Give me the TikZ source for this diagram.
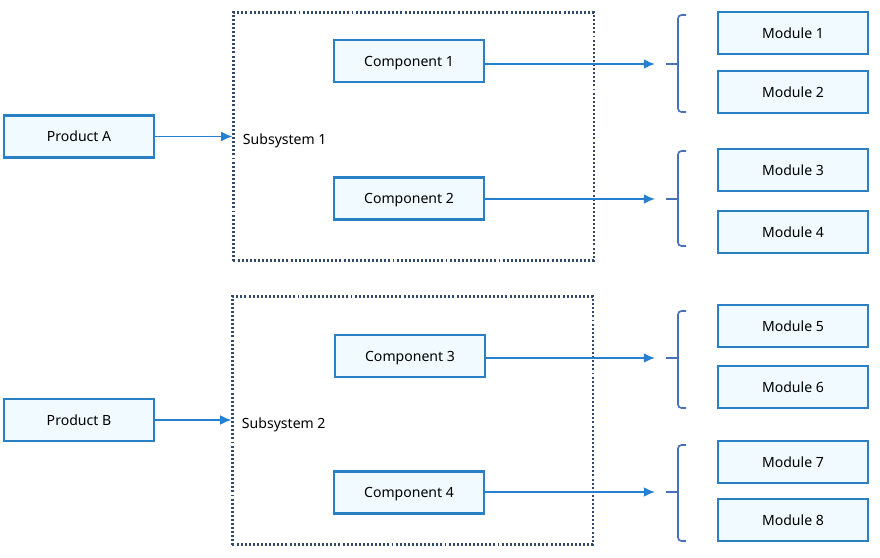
\documentclass[tikz,border=0pt]{standalone}
\usepackage{fontspec}
\setmainfont{Noto Sans}
\usetikzlibrary{positioning,arrows.meta,calc}
\definecolor{boxblue}{RGB}{42,128,196}
\definecolor{boxfill}{RGB}{240,250,255}
\definecolor{arrowblue}{RGB}{38,128,210}
\definecolor{braceblue}{RGB}{72,112,182}
\definecolor{frame}{RGB}{52,72,104}
\tikzset{
    block/.style={
        rectangle,
        draw=boxblue,
        fill=boxfill,
        line width=1.7pt,
        minimum width=3.75cm,
        minimum height=1.05cm,
        text depth=0pt,
        font=\fontsize{10}{12}\selectfont
    },
    subsys/.style={
        rectangle,
        draw=frame,
        line width=1.5pt,
        dash pattern=on 1.4pt off 1.5pt,
        minimum width=9cm,
        minimum height=6.2cm
    },
    flow/.style={
        draw=arrowblue,
        line width=1.2pt,
        -{Latex[length=8pt,width=7pt]}
    },
    bracket/.style={
        draw=braceblue,
        line width=1.2pt,
        rounded corners=2.5pt
    }
}

\begin{document}
\begin{tikzpicture}[x=0.025cm,y=-0.025cm]
    \useasboundingbox (0,0) rectangle (880,558);

    % Products
    \node[block] (pA) at (79,136.5) {Product A};
    \node[block] (pB) at (79,420) {Product B};

    % Subsystems
    \node[subsys] (s1) at (413.5,136.5) {};
    \node[subsys] (s2) at (412.5,420.5) {};
    \node[anchor=west, text depth=0pt, font=\fontsize{10}{12}\selectfont] (l1) at (238,139) {Subsystem 1};
    \node[anchor=west, text depth=0pt, font=\fontsize{10}{12}\selectfont] (l2) at (237,423) {Subsystem 2};
    \draw[flow] (pA.east) -- (pA.east -| s1.west);
    \draw[flow] (pB.east) -- (pB.east -| s2.west);

    % Components
    \node[block] (c1) at (409,61) {Component 1};
    \node[block] (c2) at (409,198.5) {Component 2};
    \node[block] (c3) at (410,356) {Component 3};
    \node[block] (c4) at (409,492.5) {Component 4};

    % Modules
    \node[block] (m1) at (793,33) {Module 1};
    \node[block] (m2) at (793,92) {Module 2};
    \node[block] (m3) at (793,170) {Module 3};
    \node[block] (m4) at (793,232) {Module 4};
    \node[block] (m5) at (793,326) {Module 5};
    \node[block] (m6) at (793,387) {Module 6};
    \node[block] (m7) at (793,462) {Module 7};
    \node[block] (m8) at (793,520) {Module 8};

    % Brackets
    \foreach \i/\top/\mid/\bot in {1/15/64/112, 2/151/199/246, 3/311/358/408, 4/445/492/541} {
        \draw[bracket] (686,\top) -| (678,\bot) -- (686,\bot);
        \draw[bracket] (666,\mid) -- (678,\mid);
        \coordinate (t\i) at (655,\mid);
    }

    % Component arrows
    \draw[flow] (c1.east |- t1) -- (t1);
    \draw[flow] (c2.east |- t2) -- (t2);
    \draw[flow] (c3.east |- t3) -- (t3);
    \draw[flow] (c4.east |- t4) -- (t4);
\end{tikzpicture}
\end{document}
